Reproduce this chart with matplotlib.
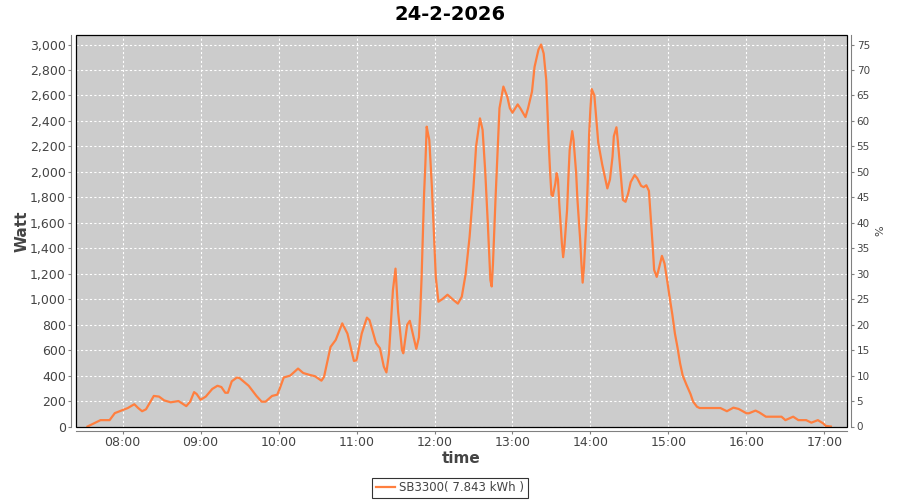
import pandas as pd
import matplotlib
matplotlib.use("Agg")
import matplotlib.pyplot as plt
import matplotlib.dates as mdates
from matplotlib.ticker import StrMethodFormatter, MultipleLocator
from matplotlib.patches import Rectangle

# Data (SB3300 output on 24-2-2026)
day = "2026-02-24"
times = [
    "07:33", "07:38", "07:43", "07:50", "07:54", "07:59", "08:04", "08:09", "08:12", "08:15",
    "08:18", "08:24", "08:28", "08:32", "08:37", "08:43", "08:46", "08:49", "08:52", "08:55",
    "08:57", "09:00", "09:04", "09:09", "09:13", "09:16", "09:19", "09:21", "09:24", "09:28",
    "09:30", "09:37", "09:43", "09:47", "09:50", "09:55", "09:59", "10:01", "10:04", "10:09",
    "10:15", "10:19", "10:24", "10:28", "10:33", "10:35", "10:40", "10:44", "10:49", "10:53",
    "10:58", "11:00", "11:04", "11:08", "11:10", "11:15", "11:18", "11:21", "11:23", "11:25",
    "11:28", "11:30", "11:32", "11:35", "11:36", "11:39", "11:41", "11:44", "11:46", "11:48",
    "11:49", "11:50", "11:51", "11:52", "11:53", "11:54", "11:55", "11:56", "11:58", "12:00",
    "12:01", "12:03", "12:06", "12:10", "12:15", "12:18", "12:21", "12:24", "12:27", "12:30",
    "12:32", "12:35", "12:37", "12:39", "12:41", "12:43", "12:44", "12:45", "12:47", "12:49",
    "12:50", "12:53", "12:56", "12:58", "13:00", "13:04", "13:06", "13:10", "13:12", "13:15",
    "13:17", "13:20", "13:22", "13:24", "13:26", "13:28", "13:29", "13:30", "13:31", "13:33",
    "13:34", "13:35", "13:36", "13:38", "13:39", "13:40", "13:42", "13:43", "13:44", "13:46",
    "13:47", "13:49", "13:50", "13:52", "13:53", "13:54", "13:55", "13:57", "13:58", "13:59",
    "14:00", "14:01", "14:03", "14:05", "14:06", "14:09", "14:12", "14:13", "14:15", "14:17",
    "14:18", "14:20", "14:21", "14:23", "14:25", "14:27", "14:29", "14:31", "14:34", "14:36",
    "14:39", "14:41", "14:43", "14:45", "14:46", "14:48", "14:49", "14:51", "14:53", "14:55",
    "14:57", "14:59", "15:01", "15:03", "15:05", "15:07", "15:09", "15:11", "15:14", "15:17",
    "15:19", "15:22", "15:24", "15:40", "15:45", "15:50", "15:54", "16:00", "16:02", "16:07",
    "16:10", "16:15", "16:27", "16:30", "16:36", "16:40", "16:46", "16:50", "16:55", "16:59",
    "17:01", "17:05",
]
watt = [
    0, 25, 50, 50, 105, 125, 145, 175, 145, 120,
    135, 240, 235, 205, 190, 200, 180, 160, 195, 270,
    255, 210, 235, 295, 320, 310, 265, 265, 355, 385,
    380, 320, 240, 195, 195, 240, 250, 300, 385, 400,
    455, 420, 405, 395, 360, 390, 625, 680, 810, 730,
    515, 520, 730, 855, 835, 655, 615, 470, 425, 575,
    1070, 1240, 900, 600, 575, 800, 830, 700, 610, 700,
    900, 1150, 1500, 1830, 2070, 2355, 2300, 2250, 1880, 1400,
    1175, 980, 1000, 1035, 990, 965, 1020, 1200, 1490, 1880,
    2200, 2420, 2330, 2010, 1600, 1150, 1100, 1280, 1800, 2275,
    2500, 2670, 2590, 2500, 2465, 2530, 2500, 2430, 2500, 2630,
    2825, 2960, 3000, 2930, 2720, 2200, 1990, 1820, 1810, 1910,
    1990, 1940, 1750, 1440, 1330, 1420, 1700, 1950, 2170, 2320,
    2250, 1990, 1780, 1480, 1290, 1130, 1250, 1650, 1950, 2300,
    2500, 2650, 2600, 2350, 2230, 2060, 1920, 1870, 1940, 2120,
    2280, 2350, 2250, 2010, 1780, 1765, 1830, 1920, 1975, 1950,
    1890, 1880, 1895, 1850, 1700, 1400, 1230, 1175, 1255, 1340,
    1280, 1150, 1010, 880, 730, 620, 495, 400, 325, 255,
    195, 155, 145, 145, 120, 148, 138, 104, 104, 125,
    110, 77, 77, 50, 77, 50, 50, 30, 50, 25,
    5, 0,
]
series_label = "SB3300( 7.843 kWh )"
title = "24-2-2026"
max_power = 4000  # 3000 W corresponds to 75 %

t = pd.to_datetime([f"{day} {s}" for s in times])

fig = plt.figure(figsize=(9, 5), dpi=100)
ax = fig.add_axes([0.084, 0.147, 0.857, 0.783])

ax.set_facecolor("#cccccc")
ax.plot(t, watt, color="#ff7f3f", linewidth=1.6, label=series_label, zorder=3)

ax.set_xlim(pd.Timestamp(f"{day} 07:23:50"), pd.Timestamp(f"{day} 17:17:20"))
ax.set_ylim(0, 3075)

ax.xaxis.set_major_locator(mdates.HourLocator())
ax.xaxis.set_major_formatter(mdates.DateFormatter("%H:%M"))
ax.yaxis.set_major_locator(MultipleLocator(200))
ax.yaxis.set_major_formatter(StrMethodFormatter("{x:,.0f}"))

ax.grid(True, color="white", linestyle=(0, (2, 2)), linewidth=0.8)
ax.set_axisbelow(True)

for side in ["top", "right"]:
    ax.spines[side].set_visible(False)
for side in ["left", "bottom"]:
    ax.spines[side].set_position(("outward", 3))
    ax.spines[side].set_color("#808080")
ax.tick_params(colors="#808080", labelcolor="#444444", length=2, pad=2, labelsize=9)

# plot outline
ax.add_patch(Rectangle((0, 0), 1, 1, transform=ax.transAxes, fill=False,
                       edgecolor="black", linewidth=0.9, clip_on=False, zorder=4))

ax2 = ax.twinx()
ax2.set_ylim(0, 3075 / max_power * 100)
ax2.yaxis.set_major_locator(MultipleLocator(5))
for side in ["top", "left", "bottom"]:
    ax2.spines[side].set_visible(False)
ax2.spines["right"].set_position(("outward", 3))
ax2.spines["right"].set_color("#808080")
ax2.tick_params(colors="#808080", labelcolor="#444444", length=2, pad=2, labelsize=7.5)
ax2.set_ylabel("%", fontsize=8, color="#444444", labelpad=4)

ax.set_ylabel("Watt", fontsize=11, fontweight="bold", color="#444444", labelpad=0)
ax.set_xlabel("time", fontsize=11, fontweight="bold", color="#444444", labelpad=1)
fig.suptitle(title, x=0.5, y=0.99, fontsize=14, fontweight="bold")

leg = ax.legend(loc="center", bbox_to_anchor=(0.5, 0.024), bbox_transform=fig.transFigure,
                frameon=True, fancybox=False, fontsize=8.5, handlelength=1.6,
                borderpad=0.3, handletextpad=0.4)
leg.get_frame().set_edgecolor("black")
leg.get_frame().set_linewidth(0.8)
for text in leg.get_texts():
    text.set_color("#444444")

fig.savefig("out.png", dpi=100)
